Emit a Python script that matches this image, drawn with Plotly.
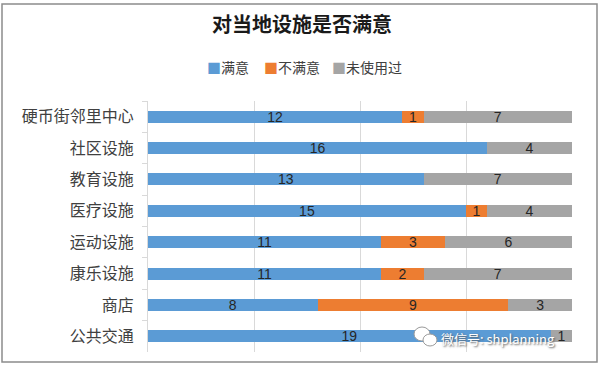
import plotly.graph_objects as go

categories = ["硬币街邻里中心", "社区设施", "教育设施", "医疗设施", "运动设施", "康乐设施", "商店", "公共交通"]
satisfied = [12, 16, 13, 15, 11, 11, 8, 19]
unsatisfied = [1, 0, 0, 1, 3, 2, 9, 0]
unused = [7, 4, 7, 4, 6, 7, 3, 1]
series_names = ["满意", "不满意", "未使用过"]
colors = ["#5B9BD5", "#ED7D31", "#A5A5A5"]
title_text = "对当地设施是否满意"
watermark = "微信号: shplanning"

W, H = 600, 365
L, R, T, B = 148, 28, 101, 13
pw, ph = W - L - R, H - T - B

def px(x):
    return (x - L) / pw

def py(y):
    return (H - B - y) / ph

fig = go.Figure()
for name, vals, col in zip(series_names, [satisfied, unsatisfied, unused], colors):
    fig.add_trace(go.Bar(
        y=categories, x=vals, name=name, orientation="h",
        marker=dict(color=col, line=dict(width=0)),
        text=[str(v) if v else "" for v in vals],
        textposition="inside", insidetextanchor="middle", textangle=0,
        textfont=dict(color="#262626", size=14, family="Liberation Sans, Arial"),
        constraintext="none", showlegend=False, hoverinfo="skip",
    ))

fig.update_layout(
    template="none",
    barmode="stack", bargap=0.62,
    width=W, height=H,
    margin=dict(l=L, r=R, t=T, b=B, autoexpand=False),
    paper_bgcolor="white", plot_bgcolor="white",
    font=dict(family="Noto Sans CJK SC", color="#404040"),
    title=dict(text=title_text, x=302 / W, xanchor="center", xref="container", y=1 - 25 / H, yanchor="middle",
               yref="container",
               font=dict(size=20, color="#1a1a1a", family="Noto Sans CJK SC", weight="bold")),
    showlegend=False,
    uniformtext=dict(mode=False),
)

fig.update_xaxes(range=[0, 20], dtick=5, showticklabels=False, showgrid=True, automargin=False,
                 gridcolor="#D9D9D9", gridwidth=1, zeroline=False, showline=False, ticks="")
fig.update_yaxes(autorange="reversed", tickson="boundaries", ticks="outside", ticklen=5, automargin=False,
                 tickcolor="#D9D9D9", showline=True, linecolor="#D9D9D9", linewidth=1,
                 tickfont=dict(size=16, color="#404040"), ticklabelstandoff=10, showgrid=False, zeroline=False)

# legend drawn as text entries
legend_x = [205, 262, 330]
for name, col, lx in zip(series_names, colors, legend_x):
    fig.add_annotation(text=f"<span style='color:{col}'>■</span>{name}", xref="paper", yref="paper",
                       x=px(lx), y=py(67), xanchor="left", yanchor="middle",
                       showarrow=False, font=dict(size=14, color="#404040", family="Noto Sans CJK SC"))

# watermark (icon + text)
fig.add_shape(type="circle", xref="paper", yref="paper", x0=px(414), x1=px(430), y0=py(327), y1=py(341),
              line=dict(color="#9a9a9a", width=1), fillcolor="white", layer="above")
fig.add_shape(type="circle", xref="paper", yref="paper", x0=px(423), x1=px(437), y0=py(334), y1=py(346),
              line=dict(color="#9a9a9a", width=1), fillcolor="white", layer="above")
fig.add_annotation(text=watermark, xref="paper", yref="paper", x=px(439), y=py(338),
                   xanchor="left", yanchor="middle", showarrow=False,
                   font=dict(size=13, color="white", family="Noto Sans CJK SC",
                             shadow="1px 1px 2px #555"))

fig.add_shape(type="rect", xref="paper", yref="paper",
              x0=px(2), x1=px(597), y0=py(362), y1=py(4),
              line=dict(color="#8c8c8c", width=1.5), fillcolor="rgba(0,0,0,0)", layer="above")

fig.write_html("out.html", post_script="document.body.style.margin='0';",
               config={"displayModeBar": False})
